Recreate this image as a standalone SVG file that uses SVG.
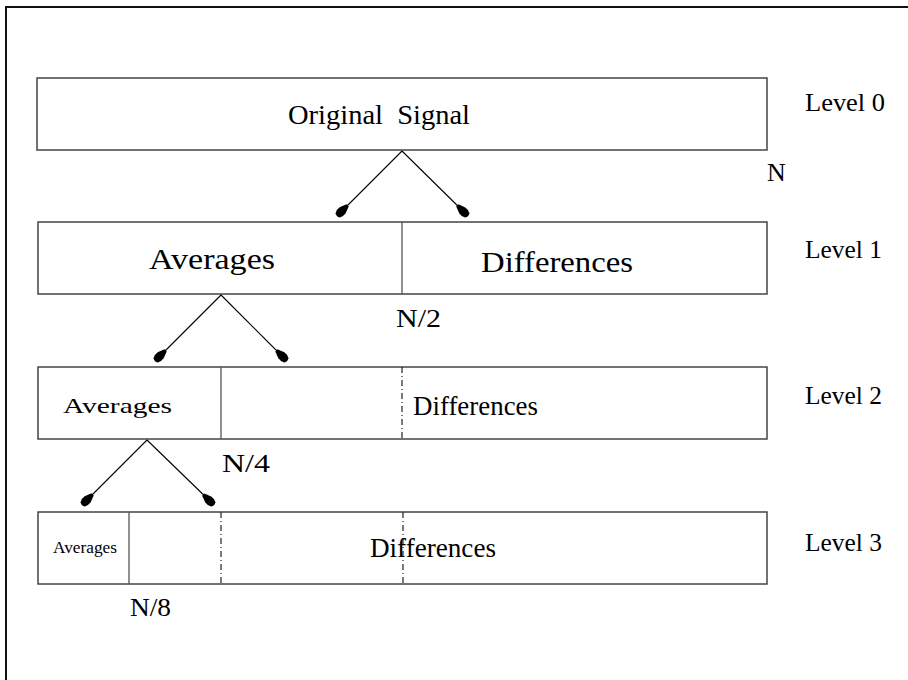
<svg xmlns="http://www.w3.org/2000/svg" width="908" height="680" viewBox="0 0 908 680">
<defs>
<style>
.box{fill:none;stroke:#444;stroke-width:1.5}
.div{stroke:#555;stroke-width:1.3}
.dash{stroke:#222;stroke-width:1.2;stroke-dasharray:6,3,1,3}
.t{font-family:"Liberation Serif","Times New Roman",serif;fill:#000}
.c{stroke:#000;stroke-width:1.1;fill:none}
</style>
<marker id="ah" markerUnits="userSpaceOnUse" markerWidth="20" markerHeight="12" refX="15" refY="0" viewBox="-2 -6 20 12" orient="auto" overflow="visible">
<path d="M0,-1.6 L7,-4.2 Q11,-5 14,-3 Q16,0 14,3 Q11,5 7,4.2 L0,1.6 Z" fill="#000"/>
</marker>
</defs>
<rect width="908" height="680" fill="#fff"/>
<g id="frame">
<path d="M6,680 V7 H908" fill="none" stroke="#111" stroke-width="2"/>
</g>
<g id="level0">
<rect class="box" x="37" y="78" width="730" height="72"/>
<text class="t" x="288" y="124" font-size="28" textLength="182" lengthAdjust="spacingAndGlyphs" xml:space="preserve">Original  Signal</text>
<text class="t" x="805" y="111" font-size="26" textLength="80" lengthAdjust="spacingAndGlyphs">Level 0</text>
<text class="t" x="767" y="181" font-size="26">N</text>
</g>
<g id="level1">
<rect class="box" x="38" y="222" width="729" height="72"/>
<line class="div" x1="402" y1="222" x2="402" y2="294"/>
<text class="t" x="149" y="269" font-size="30" textLength="126" lengthAdjust="spacingAndGlyphs">Averages</text>
<text class="t" x="481" y="272" font-size="30" textLength="152" lengthAdjust="spacingAndGlyphs">Differences</text>
<text class="t" x="805" y="258" font-size="26" textLength="77" lengthAdjust="spacingAndGlyphs">Level 1</text>
<text class="t" x="396" y="327" font-size="26" textLength="45" lengthAdjust="spacingAndGlyphs">N/2</text>
</g>
<g id="level2">
<rect class="box" x="38" y="367" width="729" height="72"/>
<line class="div" x1="221" y1="367" x2="221" y2="439"/>
<line class="dash" x1="402" y1="367" x2="402" y2="439"/>
<text class="t" x="63" y="413" font-size="22" textLength="109" lengthAdjust="spacingAndGlyphs">Averages</text>
<text class="t" x="413" y="415" font-size="27" textLength="125" lengthAdjust="spacingAndGlyphs">Differences</text>
<text class="t" x="805" y="404" font-size="26" textLength="77" lengthAdjust="spacingAndGlyphs">Level 2</text>
<text class="t" x="222" y="472" font-size="26" textLength="48" lengthAdjust="spacingAndGlyphs">N/4</text>
</g>
<g id="level3">
<rect class="box" x="38" y="512" width="729" height="72"/>
<line class="div" x1="129" y1="512" x2="129" y2="584"/>
<line class="dash" x1="221" y1="512" x2="221" y2="584"/>
<line class="dash" x1="403" y1="512" x2="403" y2="584"/>
<text class="t" x="53" y="553" font-size="16" textLength="64" lengthAdjust="spacingAndGlyphs">Averages</text>
<text class="t" x="370" y="557" font-size="27" textLength="126" lengthAdjust="spacingAndGlyphs">Differences</text>
<text class="t" x="805" y="551" font-size="26" textLength="77" lengthAdjust="spacingAndGlyphs">Level 3</text>
<text class="t" x="130" y="616" font-size="26" textLength="41" lengthAdjust="spacingAndGlyphs">N/8</text>
</g>
<g id="connectors">
<line class="c" x1="402" y1="151" x2="337" y2="216" marker-end="url(#ah)"/>
<line class="c" x1="402" y1="151" x2="468" y2="216" marker-end="url(#ah)"/>
<line class="c" x1="221" y1="295" x2="155" y2="361" marker-end="url(#ah)"/>
<line class="c" x1="221" y1="295" x2="287" y2="361" marker-end="url(#ah)"/>
<line class="c" x1="147" y1="440" x2="82" y2="505" marker-end="url(#ah)"/>
<line class="c" x1="147" y1="440" x2="214" y2="505" marker-end="url(#ah)"/>
</g>
</svg>
